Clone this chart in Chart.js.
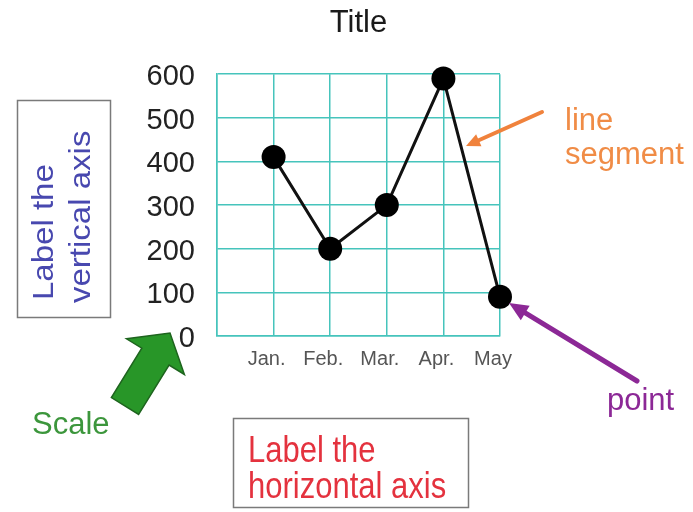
<!DOCTYPE html>
<html>
<head>
<meta charset="utf-8">
<script src="https://cdn.jsdelivr.net/npm/chart.js@4/dist/chart.umd.min.js"></script>
<style>
  html, body { margin: 0; padding: 0; background: #ffffff; }
  #wrap { width: 693px; height: 512px; }
</style>
</head>
<body>
<div id="wrap"><canvas id="c" width="693" height="512"></canvas></div>
<script>
// ---- data ----
const months = ['Jan.', 'Feb.', 'Mar.', 'Apr.', 'May'];
const values = [410, 200, 300, 590, 90];
const yTicks = [0, 100, 200, 300, 400, 500, 600];
const chartTitle = 'Title';

const GRID = 'rgb(70,196,188)';
const FONT = '"Liberation Sans", Arial, sans-serif';

function arrow(ctx, x1, y1, x2, y2, w, headLen, headW, color) {
  const dx = x2 - x1, dy = y2 - y1;
  const L = Math.hypot(dx, dy);
  const ux = dx / L, uy = dy / L, px = -uy, py = ux;
  const bx = x2 - ux * headLen, by = y2 - uy * headLen;
  ctx.save();
  ctx.strokeStyle = color; ctx.fillStyle = color;
  ctx.lineWidth = w; ctx.lineCap = 'round';
  ctx.beginPath(); ctx.moveTo(x1, y1); ctx.lineTo(bx, by); ctx.stroke();
  ctx.beginPath();
  ctx.moveTo(x2, y2);
  ctx.lineTo(bx + px * headW / 2, by + py * headW / 2);
  ctx.lineTo(bx - px * headW / 2, by - py * headW / 2);
  ctx.closePath(); ctx.fill();
  ctx.restore();
}

const annotations = {
  id: 'annotations',
  afterDraw(chart) {
    const ctx = chart.ctx;
    ctx.save();
    // vertical label box
    ctx.strokeStyle = '#7a7a7a'; ctx.lineWidth = 1.5;
    ctx.strokeRect(17.5, 100.5, 93, 217);
    ctx.fillStyle = 'rgb(72,72,175)';
    ctx.font = '30px ' + FONT;
    ctx.textBaseline = 'middle'; ctx.textAlign = 'left';
    ctx.save(); ctx.translate(45, 300); ctx.rotate(-Math.PI / 2); ctx.scale(1.1, 1); ctx.fillText('Label the', 0, 0); ctx.restore();
    ctx.save(); ctx.translate(82, 303); ctx.rotate(-Math.PI / 2); ctx.scale(1.1, 1); ctx.fillText('vertical axis', 0, 0); ctx.restore();

    // horizontal label box
    ctx.strokeStyle = '#7a7a7a'; ctx.lineWidth = 1.5;
    ctx.strokeRect(233.5, 418.5, 235, 89);
    ctx.fillStyle = 'rgb(228,50,62)';
    ctx.font = '31px ' + FONT;
    ctx.textBaseline = 'alphabetic'; ctx.textAlign = 'left';
    ctx.save(); ctx.translate(248, 462); ctx.scale(1, 1.22); ctx.fillText('Label the', 0, 0); ctx.restore();
    ctx.save(); ctx.translate(248, 498); ctx.scale(1, 1.22); ctx.fillText('horizontal axis', 0, 0); ctx.restore();

    // line segment
    ctx.fillStyle = 'rgb(240,140,70)';
    ctx.font = '31px ' + FONT;
    ctx.fillText('line', 565, 130);
    ctx.fillText('segment', 565, 164);
    arrow(ctx, 542, 112, 466, 146, 4, 14, 13, 'rgb(240,130,60)');

    // point
    ctx.fillStyle = 'rgb(140,40,150)';
    ctx.fillText('point', 607, 410);
    arrow(ctx, 637, 381, 509, 303, 5, 19, 17, 'rgb(140,40,150)');

    // Scale
    ctx.fillStyle = 'rgb(60,150,60)';
    ctx.fillText('Scale', 32, 434);

    // green block arrow
    const bx = 125, by = 406, tx = 170, ty = 333;
    const L = Math.hypot(tx - bx, ty - by);
    const ux = (tx - bx) / L, uy = (ty - by) / L, px = -uy, py = ux;
    const sw = 16, hw = 34, hb = 58;
    const hx = bx + ux * hb, hy = by + uy * hb;
    ctx.beginPath();
    ctx.moveTo(bx + px * sw, by + py * sw);
    ctx.lineTo(hx + px * sw, hy + py * sw);
    ctx.lineTo(hx + px * hw, hy + py * hw);
    ctx.lineTo(tx, ty);
    ctx.lineTo(hx - px * hw, hy - py * hw);
    ctx.lineTo(hx - px * sw, hy - py * sw);
    ctx.lineTo(bx - px * sw, by - py * sw);
    ctx.closePath();
    ctx.fillStyle = 'rgb(40,150,40)';
    ctx.fill();
    ctx.strokeStyle = 'rgb(30,100,30)'; ctx.lineWidth = 1.5;
    ctx.stroke();
    ctx.restore();
  }
};

new Chart(document.getElementById('c'), {
  type: 'line',
  data: {
    datasets: [{
      data: values.map((v, i) => ({ x: i + 1, y: v })),
      borderColor: '#111',
      borderWidth: 3,
      pointRadius: 12,
      pointBackgroundColor: '#000',
      pointBorderColor: '#000',
      pointBorderWidth: 0,
      tension: 0,
      clip: false
    }]
  },
  options: {
    responsive: false,
    animation: false,
    events: [],
    layout: { padding: { left: 147, right: 193, top: 0, bottom: 136 } },
    plugins: {
      legend: { display: false },
      tooltip: { enabled: false },
      title: {
        display: true,
        text: chartTitle,
        fullSize: false,
        color: '#1a1a1a',
        font: { family: FONT, size: 31, weight: 'normal', lineHeight: 1.2 },
        padding: { top: 5, bottom: 32 }
      }
    },
    scales: {
      x: {
        type: 'linear',
        min: 0, max: months.length,
        grid: { color: GRID, lineWidth: 1.5, drawTicks: false },
        border: { color: GRID, width: 1.5 },
        ticks: {
          stepSize: 1,
          autoSkip: false,
          maxRotation: 0,
          padding: 11,
          labelOffset: -7,
          color: '#555',
          font: { family: FONT, size: 20 },
          callback: (v) => months[v - 1] || ''
        },
        afterFit: (s) => { s.height = 40; }
      },
      y: {
        min: yTicks[0], max: yTicks[yTicks.length - 1],
        grid: { color: GRID, lineWidth: 1.5, drawTicks: false },
        border: { color: GRID, width: 1.5 },
        afterBuildTicks: (s) => { s.ticks = yTicks.map(v => ({ value: v })); },
        ticks: {
          autoSkip: false,
          padding: 22,
          labelOffset: 3,
          color: '#222',
          font: { family: FONT, size: 29 }
        },
        afterFit: (s) => { s.width = 70; }
      }
    }
  },
  plugins: [annotations]
});
</script>
</body>
</html>
